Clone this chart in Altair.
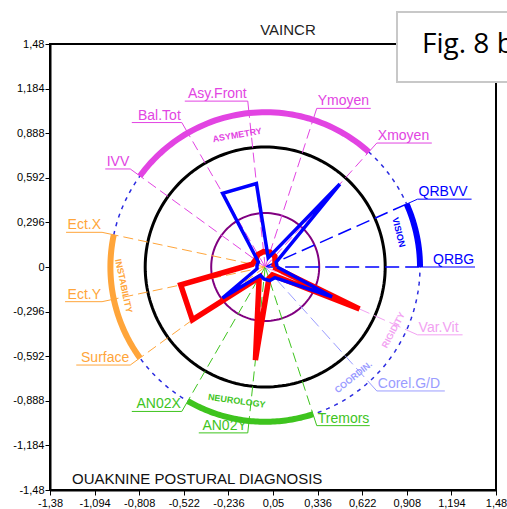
import math
import altair as alt
import pandas as pd

# ---------------- data ----------------
categories = ["QRBG", "QRBVV", "Xmoyen", "Ymoyen", "Asy.Front", "Bal.Tot", "IVV",
              "Ect.X", "Ect.Y", "Surface", "AN02X", "AN02Y", "Tremors", "Corel.G/D", "Var.Vit"]
category_group = ["VISION", "VISION", "ASYMETRY", "ASYMETRY", "ASYMETRY", "ASYMETRY", "ASYMETRY",
                  "INSTABILITY", "INSTABILITY", "INSTABILITY", "NEUROLOGY", "NEUROLOGY", "NEUROLOGY",
                  "COORDIN.", "RIGIDITY"]
# radii relative to the black reference circle (= 1)
red_values = [0.07, 0.09, 0.12, 0.13, 0.13, 0.12, 0.10, 0.11, 0.72, 0.75, 0.10, 0.78, 0.10, 0.09, 0.86]
blue_values = [0.10, 0.10, 0.93, 0.08, 0.70, 0.71, 0.07, 0.07, 0.07, 0.44, 0.08, 0.10, 0.12, 0.12, 0.61]
group_names = ["VISION", "ASYMETRY", "INSTABILITY", "NEUROLOGY", "COORDIN.", "RIGIDITY"]
x_ticks = [-1.38, -1.094, -0.808, -0.522, -0.236, 0.05, 0.336, 0.622, 0.908, 1.194, 1.48]
y_ticks = [-1.48, -1.184, -0.888, -0.592, -0.296, 0, 0.296, 0.592, 0.888, 1.184, 1.48]
title_text = "VAINCR"
footer_text = "OUAKNINE POSTURAL DIAGNOSIS"
figure_tag = "Fig. 8 b"

# ---------------- style / layout ----------------
group_colors = {"VISION": "#0000ff", "ASYMETRY": "#e244e2", "INSTABILITY": "#ffa53a",
                "NEUROLOGY": "#3ec41e", "COORDIN.": "#9a9cff", "RIGIDITY": "#f2a2f2"}
group_dash = {"VISION": [14, 6], "ASYMETRY": [10, 5], "INSTABILITY": [10, 5],
              "NEUROLOGY": [10, 5], "COORDIN.": [12, 5], "RIGIDITY": [12, 5]}
# (radius, angle deg, text rotation) of the group captions inside the ring
group_caption_pos = {"VISION": (1.15, 14.6, 76), "ASYMETRY": (1.125, 102, 350),
                     "INSTABILITY": (1.19, 187.6, 78), "NEUROLOGY": (1.14, 258, 8),
                     "COORDIN.": (1.175, 308.7, 321), "RIGIDITY": (1.19, 333.8, 298)}
# underline lengths (px) = rendered label widths
underline_px = {"QRBG": 43, "QRBVV": 54, "Xmoyen": 55, "Ymoyen": 54, "Asy.Front": 63, "Bal.Tot": 50,
                "IVV": 25, "Ect.X": 36, "Ect.Y": 37, "Surface": 54, "AN02X": 50, "AN02Y": 49,
                "Tremors": 53, "Corel.G/D": 68, "Var.Vit": 45}

W = H = 446
X_DOM = (-1.38, 1.48)
Y_DOM = (-1.48, 1.48)
PX_X = W / (X_DOM[1] - X_DOM[0])
PX_Y = H / (Y_DOM[1] - Y_DOM[0])
R_PX = 120
KX = R_PX / PX_X
KY = R_PX / PX_Y
STEP = 360 / len(categories)
R_INNER, R_RING, R_LABEL = 0.45, 1.29, 1.39
FONT = "Liberation Sans"


def to_xy(r, deg):
    a = math.radians(deg)
    return r * math.cos(a) * KX, r * math.sin(a) * KY


def arc_rows(name, r, a0, a1, n=120, color="#000"):
    rows = []
    for k in range(n + 1):
        d = a0 + (a1 - a0) * k / n
        x, y = to_xy(r, d)
        rows.append({"id": name, "o": k, "x": x, "y": y, "color": color})
    return rows


circ_black = pd.DataFrame(arc_rows("black", 1.0, 0, 360, 180))
circ_purple = pd.DataFrame(arc_rows("purple", R_INNER, 0, 360, 120))
circ_ring = pd.DataFrame(arc_rows("ring", R_RING, 0, 360, 240))

arc_list = []
for g in group_names:
    idx = [i for i, cg in enumerate(category_group) if cg == g]
    if len(idx) > 1:
        arc_list += arc_rows(g, R_RING, idx[0] * STEP, idx[-1] * STEP, 60, group_colors[g])
arcs = pd.DataFrame(arc_list)

leader_rows, lab_rows, ul_rows = [], [], []
spoke_frames = {}
for i, c in enumerate(categories):
    d = i * STEP
    g = category_group[i]
    col = group_colors[g]
    x0, y0 = to_xy(0, d)
    x1, y1 = to_xy(R_RING, d)
    x2, y2 = to_xy(R_LABEL, d)
    spoke_frames.setdefault(g, []).extend([
        {"id": c, "o": 0, "x": x0, "y": y0, "color": col},
        {"id": c, "o": 1, "x": x1, "y": y1, "color": col}])
    leader_rows += [{"id": c, "o": 0, "x": x1, "y": y1, "color": col},
                    {"id": c, "o": 1, "x": x2, "y": y2, "color": col}]
    L = underline_px[c] / PX_X
    right = math.cos(math.radians(d)) > 0
    ul_rows.append({"x": x2 if right else x2 - L, "x2": x2 + L if right else x2, "y": y2, "color": col})
    lab_rows.append({"x": x2, "y": y2, "label": c, "color": col, "side": "r" if right else "l"})
leaders = pd.DataFrame(leader_rows)
underlines = pd.DataFrame(ul_rows)
labels = pd.DataFrame(lab_rows)


def polygon(vals, name):
    rows = []
    for k in range(len(vals) + 1):
        i = k % len(vals)
        x, y = to_xy(vals[i], i * STEP)
        rows.append({"id": name, "o": k, "x": x, "y": y})
    return pd.DataFrame(rows)


red_poly = polygon(red_values, "red")
blue_poly = polygon(blue_values, "blue")

cap_rows = []
for g in group_names:
    r, d, ta = group_caption_pos[g]
    x, y = to_xy(r, d)
    cap_rows.append({"x": x, "y": y, "label": g, "color": group_colors[g], "ta": ta})
captions = pd.DataFrame(cap_rows)

# ---------------- encodings ----------------
lab_expr = "replace(datum.value + '', '.', ',')"
X = alt.X("x:Q", scale=alt.Scale(domain=list(X_DOM), nice=False, zero=False),
          axis=alt.Axis(values=x_ticks, labelExpr=lab_expr, title=None, grid=False, tickSize=5,
                        domainColor="black", tickColor="black", labelColor="black", labelFontSize=11,
                        labelFont=FONT, labelPadding=2, labelOverlap=False, labelFlush=False,
                        domainWidth=2, tickWidth=1))
Y = alt.Y("y:Q", scale=alt.Scale(domain=list(Y_DOM), nice=False, zero=False),
          axis=alt.Axis(values=y_ticks, labelExpr=lab_expr, title=None, grid=False, tickSize=5,
                        domainColor="black", tickColor="black", labelColor="black", labelFontSize=11,
                        labelFont=FONT, labelPadding=1, labelOverlap=False, labelFlush=False,
                        domainWidth=2, tickWidth=1))
ORD = alt.Order("o:Q")
COL = alt.Color("color:N", scale=None)


def line(df, **kw):
    return alt.Chart(df).mark_line(**kw).encode(x=X, y=Y, order=ORD, detail="id:N")


layers = [
    line(circ_ring, color="#2a2ae0", strokeWidth=1.5, strokeDash=[4, 5]),
    line(circ_black, color="black", strokeWidth=3),
    line(circ_purple, color="#800080", strokeWidth=2),
]
for g in group_names:
    layers.append(alt.Chart(pd.DataFrame(spoke_frames[g])).mark_line(
        strokeWidth=1.5 if g == "VISION" else 1, strokeDash=group_dash[g]).encode(
        x=X, y=Y, order=ORD, detail="id:N", color=COL))
layers += [
    alt.Chart(leaders).mark_line(strokeWidth=1).encode(x=X, y=Y, order=ORD, detail="id:N", color=COL),
    alt.Chart(arcs).mark_line(strokeWidth=6, strokeCap="butt").encode(
        x=X, y=Y, order=ORD, detail="id:N", color=COL),
    line(red_poly, color="#ff0000", strokeWidth=5.5, strokeJoin="miter"),
    line(blue_poly, color="#0000ff", strokeWidth=3.5, strokeJoin="miter"),
    alt.Chart(underlines).mark_rule(strokeWidth=1).encode(x=X, x2="x2:Q", y=Y, color=COL),
    alt.Chart(labels[labels.side == "r"]).mark_text(
        align="left", baseline="alphabetic", dx=1, dy=-3, font=FONT, fontSize=14).encode(
        x=X, y=Y, text="label:N", color=COL),
    alt.Chart(labels[labels.side == "l"]).mark_text(
        align="right", baseline="alphabetic", dx=-1, dy=-3, font=FONT, fontSize=14).encode(
        x=X, y=Y, text="label:N", color=COL),
    alt.Chart(captions).mark_text(align="center", baseline="middle", font=FONT, fontSize=9,
                                  fontWeight="bold").encode(
        x=X, y=Y, text="label:N", color=COL, angle=alt.Angle("ta:Q", scale=None)),
    alt.Chart(pd.DataFrame({"t": [title_text]})).mark_text(
        align="center", baseline="middle", font=FONT, fontSize=15, color="#222").encode(
        x=alt.value(238), y=alt.value(-14), text="t:N"),
    alt.Chart(pd.DataFrame({"t": [footer_text]})).mark_text(
        align="left", baseline="alphabetic", font=FONT, fontSize=15, color="#111").encode(
        x=alt.value(22), y=alt.value(440), text="t:N"),
    alt.Chart(pd.DataFrame({"t": [figure_tag]})).mark_rect(
        fill="white", stroke="#c8c8c8", strokeWidth=2).encode(
        x=alt.value(347), x2=alt.value(540), y=alt.value(-32), y2=alt.value(38)),
    alt.Chart(pd.DataFrame({"t": [figure_tag]})).mark_text(
        align="left", baseline="alphabetic", font="Open Sans", fontSize=28, color="black").encode(
        x=alt.value(372), y=alt.value(9), text="t:N"),
]

chart = alt.layer(*layers).properties(
    width=W, height=H,
    autosize=alt.AutoSizeParams(type="none"),
    padding={"left": 50, "top": 44, "right": 11, "bottom": 19},
    background="white",
).configure_view(stroke="black", strokeWidth=2)

chart.save("out.html", embed_options={"renderer": "svg", "actions": False})
